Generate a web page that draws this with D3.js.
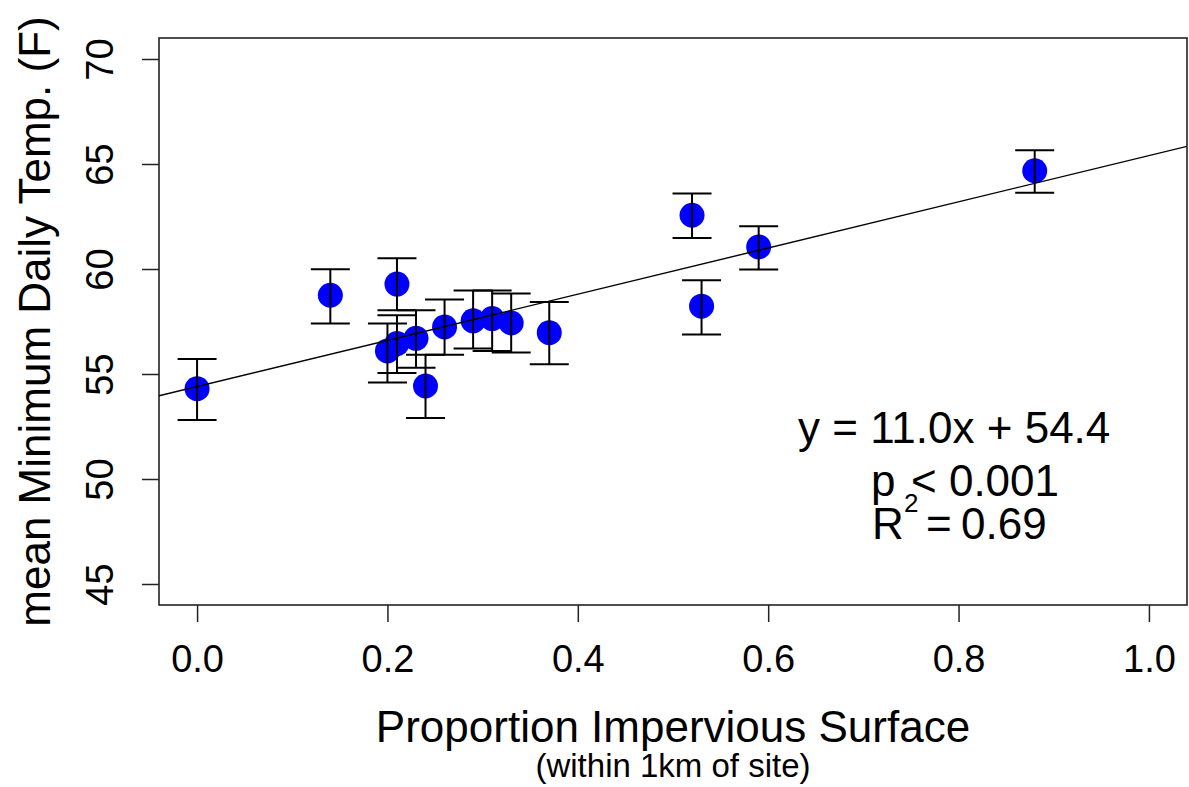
<!DOCTYPE html>
<html>
<head>
<meta charset="utf-8">
<script src="https://cdn.jsdelivr.net/npm/d3@7/dist/d3.min.js"></script>
<style>
  html, body { margin: 0; padding: 0; background: #fff; }
  svg { display: block; }
  text { font-family: "Liberation Sans", Arial, sans-serif; fill: #000; }
</style>
</head>
<body>
<svg id="chart" width="1189" height="787"></svg>
<script>
// ---- data ----
const impervious = [0.00, 0.14, 0.20, 0.21, 0.21, 0.23, 0.24, 0.26, 0.29, 0.31, 0.33, 0.37, 0.52, 0.53, 0.59, 0.88];
const meanMinTemp = [54.30, 58.75, 56.10, 59.28, 56.45, 56.70, 54.43, 57.24, 57.53, 57.64, 57.43, 56.97, 62.56, 58.23, 61.05, 64.68];
const errLow  = [52.81, 57.40, 54.59, 58.04, 55.05, 55.30, 52.90, 55.92, 56.21, 56.10, 56.02, 55.46, 61.48, 56.88, 59.98, 63.63];
const errHigh = [55.71, 59.99, 57.40, 60.51, 57.80, 58.04, 55.92, 58.55, 58.98, 58.98, 58.83, 58.43, 63.60, 59.47, 62.04, 65.66];
const xTicks = [0.0, 0.2, 0.4, 0.6, 0.8, 1.0];
const yTicks = [45, 50, 55, 60, 65, 70];
const fitSlope = 11.0;
const fitIntercept = 54.4;
const eqText = "y = 11.0x + 54.4";
const pText = "< 0.001";
const r2Text = "0.69";

// ---- layout ----
const svg = d3.select("#chart");
const L = 159, R = 1187, T = 38, B = 605;
const x = d3.scaleLinear().domain([-0.04, 1.04]).range([L, R]);
const y = d3.scaleLinear().domain([44, 71]).range([B, T]);

svg.append("defs").append("clipPath").attr("id", "plotclip")
  .append("rect").attr("x", L).attr("y", T).attr("width", R - L).attr("height", B - T);

// axes (ticks)
const xAxis = d3.axisBottom(x).tickValues(xTicks).tickFormat(d3.format(".1f")).tickSize(17);
const gx = svg.append("g").attr("transform", `translate(0,${B})`).call(xAxis);
gx.select(".domain").remove();
gx.selectAll(".tick line").attr("stroke", "#222").attr("stroke-width", 1.5);
gx.selectAll(".tick text").attr("font-size", 38).attr("font-family", "Liberation Sans, Arial, sans-serif")
  .attr("dy", null).attr("y", 67);

const yAxis = d3.axisLeft(y).tickValues(yTicks).tickSize(17).tickFormat(d3.format("d"));
const gy = svg.append("g").attr("transform", `translate(${L},0)`).call(yAxis);
gy.select(".domain").remove();
gy.selectAll(".tick line").attr("stroke", "#222").attr("stroke-width", 1.5);
gy.selectAll(".tick text").attr("font-size", 38).attr("font-family", "Liberation Sans, Arial, sans-serif")
  .attr("x", null).attr("dy", null)
  .attr("text-anchor", "middle")
  .attr("transform", "translate(-46,0) rotate(-90)");

// box
svg.append("rect").attr("x", L).attr("y", T).attr("width", R - L).attr("height", B - T)
  .attr("fill", "none").attr("stroke", "#222").attr("stroke-width", 1.6);

// points
const plot = svg.append("g").attr("clip-path", "url(#plotclip)");
plot.selectAll("circle.pt").data(impervious).join("circle")
  .attr("class", "pt")
  .attr("cx", d => x(d))
  .attr("cy", (d, i) => y(meanMinTemp[i]))
  .attr("r", 12.5)
  .attr("fill", "#0000ff");

// error bars
const capHalf = 19.5;
const eb = plot.append("g").attr("stroke", "#000").attr("stroke-width", 2);
impervious.forEach((d, i) => {
  const cx = x(d);
  eb.append("line").attr("x1", cx).attr("x2", cx).attr("y1", y(errLow[i])).attr("y2", y(errHigh[i]));
  eb.append("line").attr("x1", cx - capHalf).attr("x2", cx + capHalf).attr("y1", y(errLow[i])).attr("y2", y(errLow[i]));
  eb.append("line").attr("x1", cx - capHalf).attr("x2", cx + capHalf).attr("y1", y(errHigh[i])).attr("y2", y(errHigh[i]));
});

// regression line
const xd = x.domain();
plot.append("line")
  .attr("x1", x(xd[0])).attr("y1", y(fitIntercept + fitSlope * xd[0]))
  .attr("x2", x(xd[1])).attr("y2", y(fitIntercept + fitSlope * xd[1]))
  .attr("stroke", "#000").attr("stroke-width", 1.4);

// annotation
svg.append("text").attr("x", 798).attr("y", 443).attr("font-size", 44).text(eqText);
svg.append("text").attr("x", 871).attr("y", 496).attr("font-size", 44).text("p");
svg.append("text").attr("x", 911).attr("y", 496).attr("font-size", 44).text(pText);
svg.append("text").attr("x", 872).attr("y", 539).attr("font-size", 44).text("R");
svg.append("text").attr("x", 904).attr("y", 512).attr("font-size", 26).text("2");
svg.append("text").attr("x", 926).attr("y", 539).attr("font-size", 44).text("=");
svg.append("text").attr("x", 961).attr("y", 539).attr("font-size", 44).text(r2Text);

// axis titles
svg.append("text").attr("x", (L + R) / 2).attr("y", 742).attr("text-anchor", "middle")
  .attr("font-size", 44).text("Proportion Impervious Surface");
svg.append("text").attr("x", (L + R) / 2).attr("y", 777).attr("text-anchor", "middle")
  .attr("font-size", 33).text("(within 1km of site)");
svg.append("text").attr("transform", `translate(50,${(T + B) / 2}) rotate(-90)`)
  .attr("text-anchor", "middle").attr("font-size", 44).text("mean Minimum Daily Temp. (F)");
</script>
</body>
</html>
